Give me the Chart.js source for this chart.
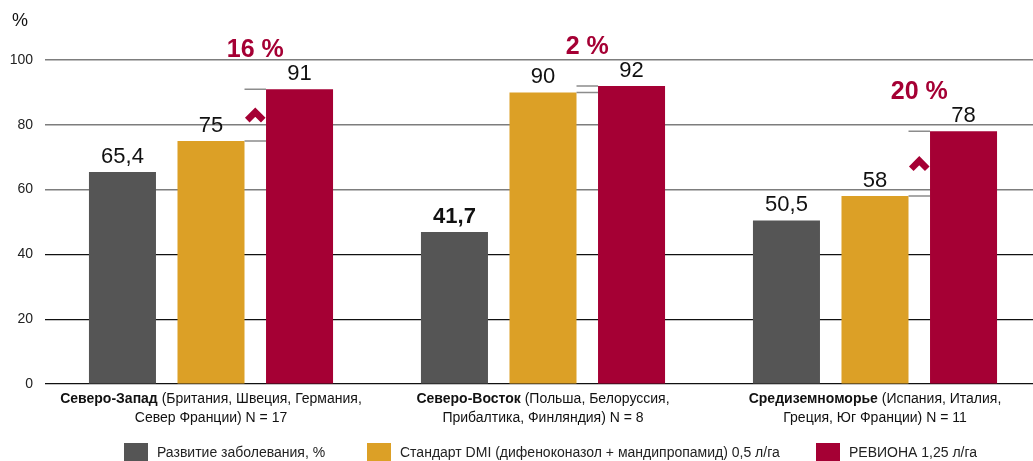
<!DOCTYPE html>
<html>
<head>
<meta charset="utf-8">
<script src="https://cdn.jsdelivr.net/npm/chart.js@4/dist/chart.umd.min.js"></script>
<style>
	html, body { margin: 0; padding: 0; background: #fff; overflow: hidden; }
	#wrap { width: 1041px; height: 461px; }
</style>
</head>
<body>
<div id="wrap"><canvas id="canvas" width="1041" height="461"></canvas></div>
<script>
// данные
var regionNames = ["Северо-Запад", "Северо-Восток", "Средиземноморье"];
var regionLine1 = [" (Британия, Швеция, Германия,", " (Польша, Белоруссия,", " (Испания, Италия,"];
var regionLine2 = ["Север Франции) N = 17", "Прибалтика, Финляндия) N = 8", "Греция, Юг Франции) N = 11"];

var seriesNames = ["Развитие заболевания, %", "Стандарт DMI (дифеноконазол + мандипропамид) 0,5 л/га", "РЕВИОНА 1,25 л/га"];

var diseaseValues = [65.4, 46.9, 50.5];
var diseaseLabels = ["65,4", "41,7", "50,5"];
var standardValues = [75, 90, 58];
var standardLabels = ["75", "90", "58"];
var revionaValues = [91, 92, 78];
var revionaLabels = ["91", "92", "78"];
var gainLabels = ["16 %", "2 %", "20 %"];

var yTicks = [0, 20, 40, 60, 80, 100];

var colors = ["#555555", "#dca026", "#a50034"];
var FONT = "'Liberation Sans', Arial, Helvetica, sans-serif";

var valueLabels = [diseaseLabels, standardLabels, revionaLabels];

// подписи, стрелки и легенда
var overlay = {
	id: "overlay",
	afterDatasetsDraw: function(chart) {
		var ctx = chart.ctx;
		ctx.save();
		ctx.textAlign = "center";
		ctx.textBaseline = "alphabetic";
		ctx.fillStyle = "#111";
		chart.data.datasets.forEach(function(ds, d) {
			var meta = chart.getDatasetMeta(d);
			meta.data.forEach(function(bar, i) {
				var bold = (d == 0 && i == 1);
				ctx.font = (bold ? "bold " : "") + "22px " + FONT;
				ctx.fillText(valueLabels[d][i], bar.x, bar.y - 9);
			});
		});

		var gold = chart.getDatasetMeta(1).data;
		var red = chart.getDatasetMeta(2).data;
		for (var i = 0; i < gold.length; i++) {
			var g = gold[i], r = red[i];
			var x1 = g.x + g.width / 2, x2 = r.x - r.width / 2;
			ctx.strokeStyle = "#8c8c8c";
			ctx.lineWidth = 1.5;
			ctx.beginPath();
			ctx.moveTo(x1, g.y); ctx.lineTo(x2, g.y);
			ctx.moveTo(x1, r.y); ctx.lineTo(x2, r.y);
			ctx.stroke();

			var mx = (x1 + x2) / 2;
			if (g.y - r.y > 30) {
				var my = (g.y + r.y) / 2;
				ctx.strokeStyle = colors[2];
				ctx.lineWidth = 6.5;
				ctx.lineJoin = "miter";
				ctx.beginPath();
				ctx.moveTo(mx - 8, my + 5);
				ctx.lineTo(mx, my - 3);
				ctx.lineTo(mx + 8, my + 5);
				ctx.stroke();
			}

			ctx.fillStyle = colors[2];
			ctx.font = "bold 25px " + FONT;
			ctx.textBaseline = "middle";
			ctx.fillText(gainLabels[i], (g.x + r.x) / 2, r.y - 39);
			ctx.textBaseline = "alphabetic";
		}
		ctx.restore();
	},
	afterDraw: function(chart) {
		var ctx = chart.ctx;
		var xs = chart.scales.x;
		var bottom = chart.chartArea.bottom;
		ctx.save();
		ctx.fillStyle = "#111";
		ctx.textBaseline = "middle";
		ctx.textAlign = "left";
		for (var i = 0; i < regionNames.length; i++) {
			var cx = xs.getPixelForValue(i);
			ctx.font = "bold 14px " + FONT;
			var w1 = ctx.measureText(regionNames[i]).width;
			ctx.font = "14px " + FONT;
			var w2 = ctx.measureText(regionLine1[i]).width;
			var sx = cx - (w1 + w2) / 2;
			ctx.font = "bold 14px " + FONT;
			ctx.fillText(regionNames[i], sx, bottom + 15);
			ctx.font = "14px " + FONT;
			ctx.fillText(regionLine1[i], sx + w1, bottom + 15);
			ctx.textAlign = "center";
			ctx.fillText(regionLine2[i], cx, bottom + 34);
			ctx.textAlign = "left";
		}

		// %
		ctx.font = "18px " + FONT;
		ctx.fillStyle = "#111";
		ctx.fillText("%", 12, 21);

		// легенда
		var boxX = [124, 367, 816];
		ctx.font = "14px " + FONT;
		for (var k = 0; k < seriesNames.length; k++) {
			ctx.fillStyle = colors[k];
			ctx.fillRect(boxX[k], 443, 24, 20);
			ctx.fillStyle = "#222";
			ctx.fillText(seriesNames[k], boxX[k] + 33, 453);
		}
		ctx.restore();
	}
};

var ctx = document.getElementById("canvas").getContext("2d");
var chart = new Chart(ctx, {
	type: "bar",
	data: {
		labels: regionNames,
		datasets: [
			{ label: seriesNames[0], data: diseaseValues, backgroundColor: colors[0] },
			{ label: seriesNames[1], data: standardValues, backgroundColor: colors[1] },
			{ label: seriesNames[2], data: revionaValues, backgroundColor: colors[2] }
		]
	},
	options: {
		responsive: false,
		animation: false,
		devicePixelRatio: 1,
		layout: { padding: { top: 60, bottom: 69, left: 0, right: 0 } },
		categoryPercentage: 0.8,
		barPercentage: 0.757,
		plugins: {
			legend: { display: false },
			tooltip: { enabled: false }
		},
		scales: {
			x: {
				ticks: { display: false },
				grid: { display: false },
				border: { display: false }
			},
			y: {
				min: 0,
				max: 100,
				afterBuildTicks: function(scale) {
					scale.ticks = yTicks.map(function(v) { return { value: v }; });
				},
				afterFit: function(scale) { scale.width = 45; },
				ticks: {
					padding: 12,
					color: "#222",
					font: { size: 14, family: FONT }
				},
				grid: {
					drawTicks: false,
					color: function(c) { return c.tick && c.tick.value >= 60 ? "#7d7d7d" : "#111"; },
					lineWidth: function(c) { return c.tick && c.tick.value >= 60 ? 1.6 : 1.2; }
				},
				border: { display: false }
			}
		}
	},
	plugins: [overlay]
});
</script>
</body>
</html>
